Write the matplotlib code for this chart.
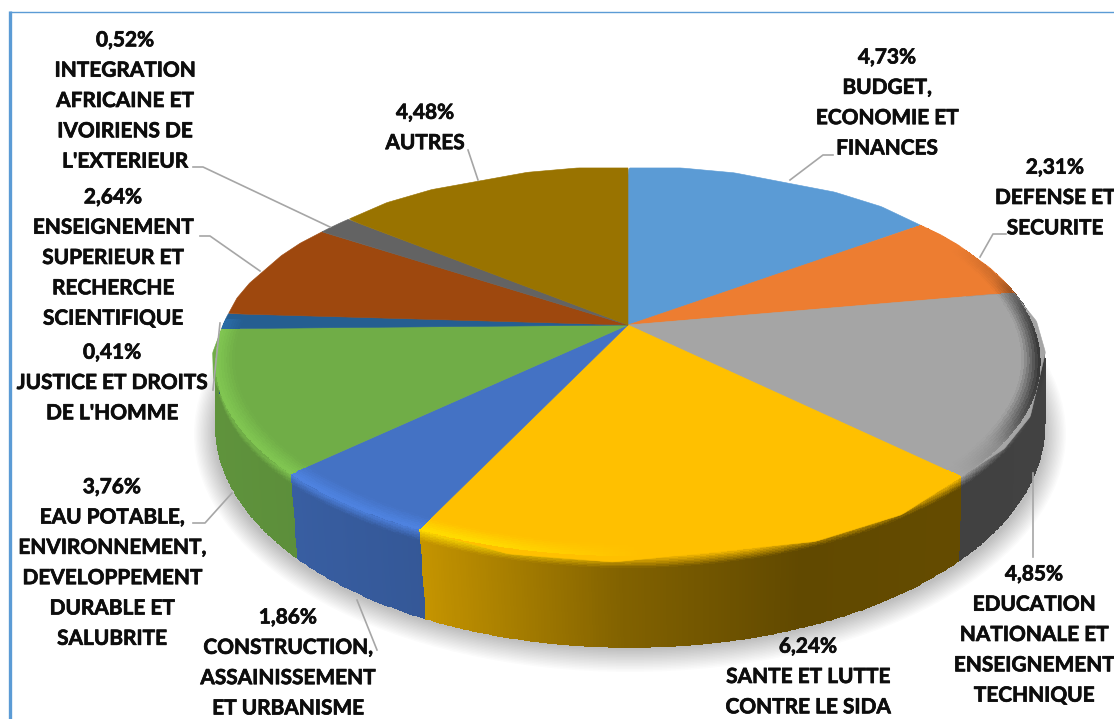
import numpy as np
import matplotlib
matplotlib.use("Agg")
import matplotlib.pyplot as plt
import matplotlib.patheffects as pe
from matplotlib.patches import Ellipse
from matplotlib.path import Path
from matplotlib.transforms import Transform
from matplotlib.colors import to_rgb

# ---- data ----
values = [4.73, 2.31, 4.85, 6.24, 1.86, 3.76, 0.41, 2.64, 0.52, 4.48]
names = ["BUDGET,\nECONOMIE ET\nFINANCES",
         "DEFENSE ET\nSECURITE",
         "EDUCATION\nNATIONALE ET\nENSEIGNEMENT\nTECHNIQUE",
         "SANTE ET LUTTE\nCONTRE LE SIDA",
         "CONSTRUCTION,\nASSAINISSEMENT\nET URBANISME",
         "EAU POTABLE,\nENVIRONNEMENT,\nDEVELOPPEMENT\nDURABLE ET\nSALUBRITE",
         "JUSTICE ET DROITS\nDE L'HOMME",
         "ENSEIGNEMENT\nSUPERIEUR ET\nRECHERCHE\nSCIENTIFIQUE",
         "INTEGRATION\nAFRICAINE ET\nIVOIRIENS DE\nL'EXTERIEUR",
         "AUTRES"]
colors = ["#5B9BD5", "#ED7D31", "#A5A5A5", "#FFC000", "#4472C4",
          "#70AD47", "#255E91", "#9E480E", "#636363", "#997300"]

# ---- layout (pixel-like axes units) ----
W, H = 1114, 719
label_xy = [(887, 103), (1055, 198), (1034, 635), (808, 677), (288, 663),
            (112, 563), (112, 383), (113, 258), (125, 101), (425, 128)]
leaders = [[(790, 180), (823, 155), (833, 155)],
           [(980, 257), (993, 234), (1006, 234)],
           [(1033, 473), (1033, 557)],
           None,
           [(357, 600), (377, 650)],
           [(232, 493), (205, 523), (193, 523)],
           [(220, 323), (213, 390)],
           [(260, 271), (210, 236), (200, 236)],
           [(330, 227), (203, 167), (193, 167)],
           [(478, 180), (468, 150)]]
FONT = "Lato"
FS = 15.0
LS = 1.645

TOP = dict(cx=628.0, cy=325.0, a=405.0, b=187.0, k=0.1907)
BOT = dict(cx=630.0, cy=390.0, a=409.5, b=216.0, k=0.162)


def project(u, v, p):
    den = 1 + p["k"] * v
    return p["cx"] + p["a"] * u / den, p["cy"] - p["b"] * v / den


class Tilt(Transform):
    input_dims = output_dims = 2

    def transform_non_affine(self, xy):
        xy = np.asarray(xy)
        x, y = project(xy[:, 0], xy[:, 1], TOP)
        return np.column_stack([x, y])

    def transform_path_non_affine(self, path):
        p = path.interpolated(24)
        return Path(self.transform_non_affine(p.vertices), p.codes)


def point(theta, z, r=1.0):
    u, v = r * np.sin(theta), r * np.cos(theta)
    xt, yt = project(u, v, TOP)
    xb, yb = project(u, v, BOT)
    # slight outward lip of the wall at the far right
    lip = 5.0 * np.clip(u, 0, 1) ** 6 * np.sin(np.pi * np.sqrt(np.clip(z, 0, 1)))
    return xt + (xb - xt) * z + lip, yt + (yb - yt) * z


def wall_mult(x):
    return np.interp(x, [215, 300, 421, 620, 800, 1050],
                     [0.85, 0.82, 0.77, 0.51, 0.38, 0.40])


def lit_mult(x):
    return np.interp(x, [215, 480, 640, 800, 960, 1000, 1025, 1045],
                     [1.14, 1.14, 1.0, 1.0, 1.0, 0.85, 0.5, 0.3])


def lit_colour(base, x):
    return np.clip(np.array(base) * lit_mult(x)[..., None], 0, 1)


fig = plt.figure(figsize=(W / 100, H / 100), dpi=100, facecolor="white")
ax = fig.add_axes([0, 0, 1, 1])

# soft shadow under the pie
for i in range(16):
    ax.add_patch(Ellipse((630, 434), 2 * (436 - 1.4 * i), 2 * (238 - 1.5 * i),
                         facecolor="black", edgecolor="none", alpha=0.014, zorder=1))

fractions = np.array(values) / np.sum(values)
edges = np.concatenate([[0], np.cumsum(fractions)]) * 2 * np.pi
RIM_END = np.deg2rad(272)

# side wall, drawn before the top face hides what lies behind it
inner_bevel = []
for i, col in enumerate(colors):
    t0, t1 = edges[i], min(edges[i + 1], RIM_END)
    if t1 <= np.deg2rad(79) or t0 >= RIM_END:
        continue
    base = np.array(to_rgb(col))
    th = np.linspace(t0, t1, max(int((t1 - t0) * 160), 4))
    s = np.concatenate([np.linspace(0, 0.13, 9), np.linspace(0.16, 1, 8)])
    T, Z = np.meshgrid(th, s, indexing="ij")
    X, Y = point(T, Z)
    Tc = 0.5 * (T[:-1, :-1] + T[1:, 1:])
    Zc = 0.5 * (Z[:-1, :-1] + Z[1:, 1:])
    Xc, _ = point(Tc, 0)
    wall = base * wall_mult(Xc)[..., None]
    lit = lit_colour(base, Xc)
    f = np.clip(Zc / 0.13, 0, 1)[..., None]
    C = lit * (1 - f) + wall * f
    ax.pcolormesh(X, Y, C, shading="flat", zorder=2, linewidth=0)
    inner_bevel.append((th, base))

# top face: the pie wedges, tilted in perspective
wedges, _ = ax.pie(values, colors=colors, startangle=90, counterclock=False,
                   radius=1, center=(0, 0), frame=False)
for w in wedges:
    w.set_transform(Tilt() + ax.transData)
    w.set_zorder(3)
    w.set_edgecolor(w.get_facecolor())
    w.set_linewidth(0.4)

# inner bevel on the top face, along the front rim
for th, base in inner_bevel:
    s = np.linspace(0.955, 1.0, 8)
    T, R = np.meshgrid(th, s, indexing="ij")
    X, Y = point(T, 0, R)
    Tc = 0.5 * (T[:-1, :-1] + T[1:, 1:])
    Rc = 0.5 * (R[:-1, :-1] + R[1:, 1:])
    Xc, _ = point(Tc, 0)
    f = np.clip((Rc - 0.955) / 0.04, 0, 1)[..., None]
    C = base * (1 - f) + lit_colour(base, Xc) * f
    ax.pcolormesh(X, Y, C, shading="flat", zorder=4, linewidth=0)

# frame of the original screenshot
ax.plot([10, 10], [11, H], color="#5B9BD5", lw=2.4, zorder=6, solid_capstyle="butt")
ax.plot([10, W], [11.5, 11.5], color="#5B9BD5", lw=1.0, zorder=6)

# leader lines and data labels
for pts in leaders:
    if pts is not None:
        xs, ys = zip(*pts)
        ax.plot(xs, ys, color="#A6A6A6", lw=1.2, zorder=5)

thicken = [pe.withStroke(linewidth=0.5, foreground="#0D0D0D")]
for val, name, (x, y) in zip(values, names, label_xy):
    txt = f"{val:.2f}%".replace(".", ",") + "\n" + name
    ax.text(x, y, txt, ha="center", va="center", ma="center", family=FONT,
            fontweight="bold", fontsize=FS, linespacing=LS, color="#0D0D0D",
            zorder=7, path_effects=thicken)

ax.set_aspect("auto")
ax.set_xlim(0, W)
ax.set_ylim(H, 0)
ax.axis("off")
fig.savefig("out.png", dpi=100, facecolor="white")
